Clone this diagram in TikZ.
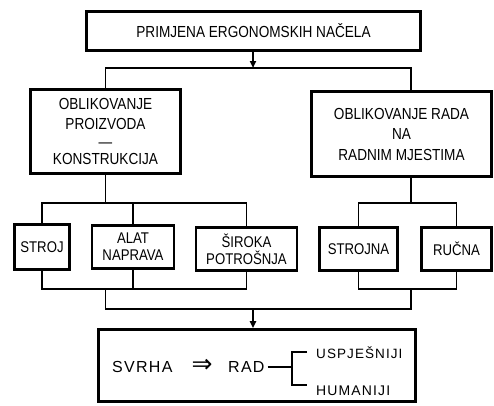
\documentclass[tikz,border=0pt]{standalone}
\usepackage{fontspec}
\setmainfont{Liberation Sans}[FakeStretch=0.85]
\newfontfamily\svrhafont{Liberation Sans}[LetterSpace=8]
\newfontfamily\strelica{DejaVu Sans}
\usetikzlibrary{arrows.meta}

\begin{document}
\begin{tikzpicture}[x=1pt, y=-1pt,
  box/.style={draw, line width=2.6pt, inner sep=0pt, align=center,
    font=\fontsize{16}{20.5}\selectfont},
  sbox/.style={box, font=\fontsize{15.5}{17}\selectfont},
  link/.style={line width=1.8pt},
  arr/.style={link, -{Triangle[length=7pt,width=6pt]}},
  txt/.style={inner sep=0pt, font=\svrhafont\fontsize{16}{16}\selectfont}]
\useasboundingbox (0,0) rectangle (494,405);
% kutije
\node[box, minimum width=334pt, minimum height=39pt] (nacela) at (253.5,31) {PRIMJENA ERGONOMSKIH NAČELA};
\node[box, minimum width=150pt, minimum height=84pt] (proizvod) at (105.5,131.5) {OBLIKOVANJE\\PROIZVODA\\[-3pt]—\\[-3pt]KONSTRUKCIJA};
\node[box, minimum width=180pt, minimum height=85pt] (mjesta) at (401.5,134) {OBLIKOVANJE RADA\\NA\\RADNIM MJESTIMA};
\node[sbox, minimum width=55pt, minimum height=45pt] (stroj) at (42,247) {STROJ};
\node[sbox, minimum width=82pt, minimum height=43pt] (alat) at (133,247) {ALAT\\NAPRAVA};
\node[sbox, minimum width=101pt, minimum height=43pt] (siroka) at (246.5,249) {ŠIROKA\\POTROŠNJA};
\node[sbox, minimum width=78pt, minimum height=43pt] (strojna) at (358.5,249) {STROJNA};
\node[sbox, minimum width=70pt, minimum height=43pt] (rucna) at (456.5,249) {RUČNA};
\node[box, minimum width=317pt, minimum height=72pt] (svrha) at (257,365.5) {};
% sabirnice
\coordinate (gore) at (253,68);
\coordinate (lg) at (105.5,203);
\coordinate (ld) at (105.5,289);
\coordinate (rg) at (411,203);
\coordinate (rd) at (411,289);
\coordinate (dolje) at (253,309);
\draw[arr] (nacela.south -| gore) -- (gore);
\draw[link] (proizvod.north) |- (gore) -| (mjesta.north -| rg);
\draw[link] (proizvod.south) -- (lg);
\draw[link] (stroj.north) |- (lg) -| (siroka.north);
\draw[link] (alat.north) -- (alat.north |- lg);
\draw[link] (stroj.south) |- (ld) -| (siroka.south);
\draw[link] (alat.south) -- (alat.south |- ld);
\draw[link] (mjesta.south -| rg) -- (rg);
\draw[link] (strojna.north) |- (rg) -| (rucna.north);
\draw[link] (strojna.south) |- (rd) -| (rucna.south);
\draw[link] (ld) |- (dolje) -| (rd);
\draw[arr] (dolje) -- (dolje |- svrha.north);
% svrha
\node[txt, anchor=west] (cilj) at (112,367) {SVRHA};
\node[inner sep=0pt, font=\strelica\fontsize{25}{25}\selectfont] (slijedi) at (202,366) {⇒};
\node[txt, anchor=west] (rad) at (228,367) {RAD};
\node[txt, anchor=west, font=\svrhafont\fontsize{13.5}{14}\selectfont] (uspj) at (316,353) {USPJEŠNIJI};
\node[txt, anchor=west, font=\svrhafont\fontsize{14}{14}\selectfont] (hum) at (316,391) {HUMANIJI};
\coordinate (zag) at (292,367);
\draw[link, line width=1.5pt] ([xshift=3pt]rad.east) -- (zag);
\draw[link, line width=1.5pt] ([xshift=-9pt]uspj.west |- 0,352) -| (zag) |- ([xshift=-9pt]hum.west |- 0,385);
\end{tikzpicture}
\end{document}
